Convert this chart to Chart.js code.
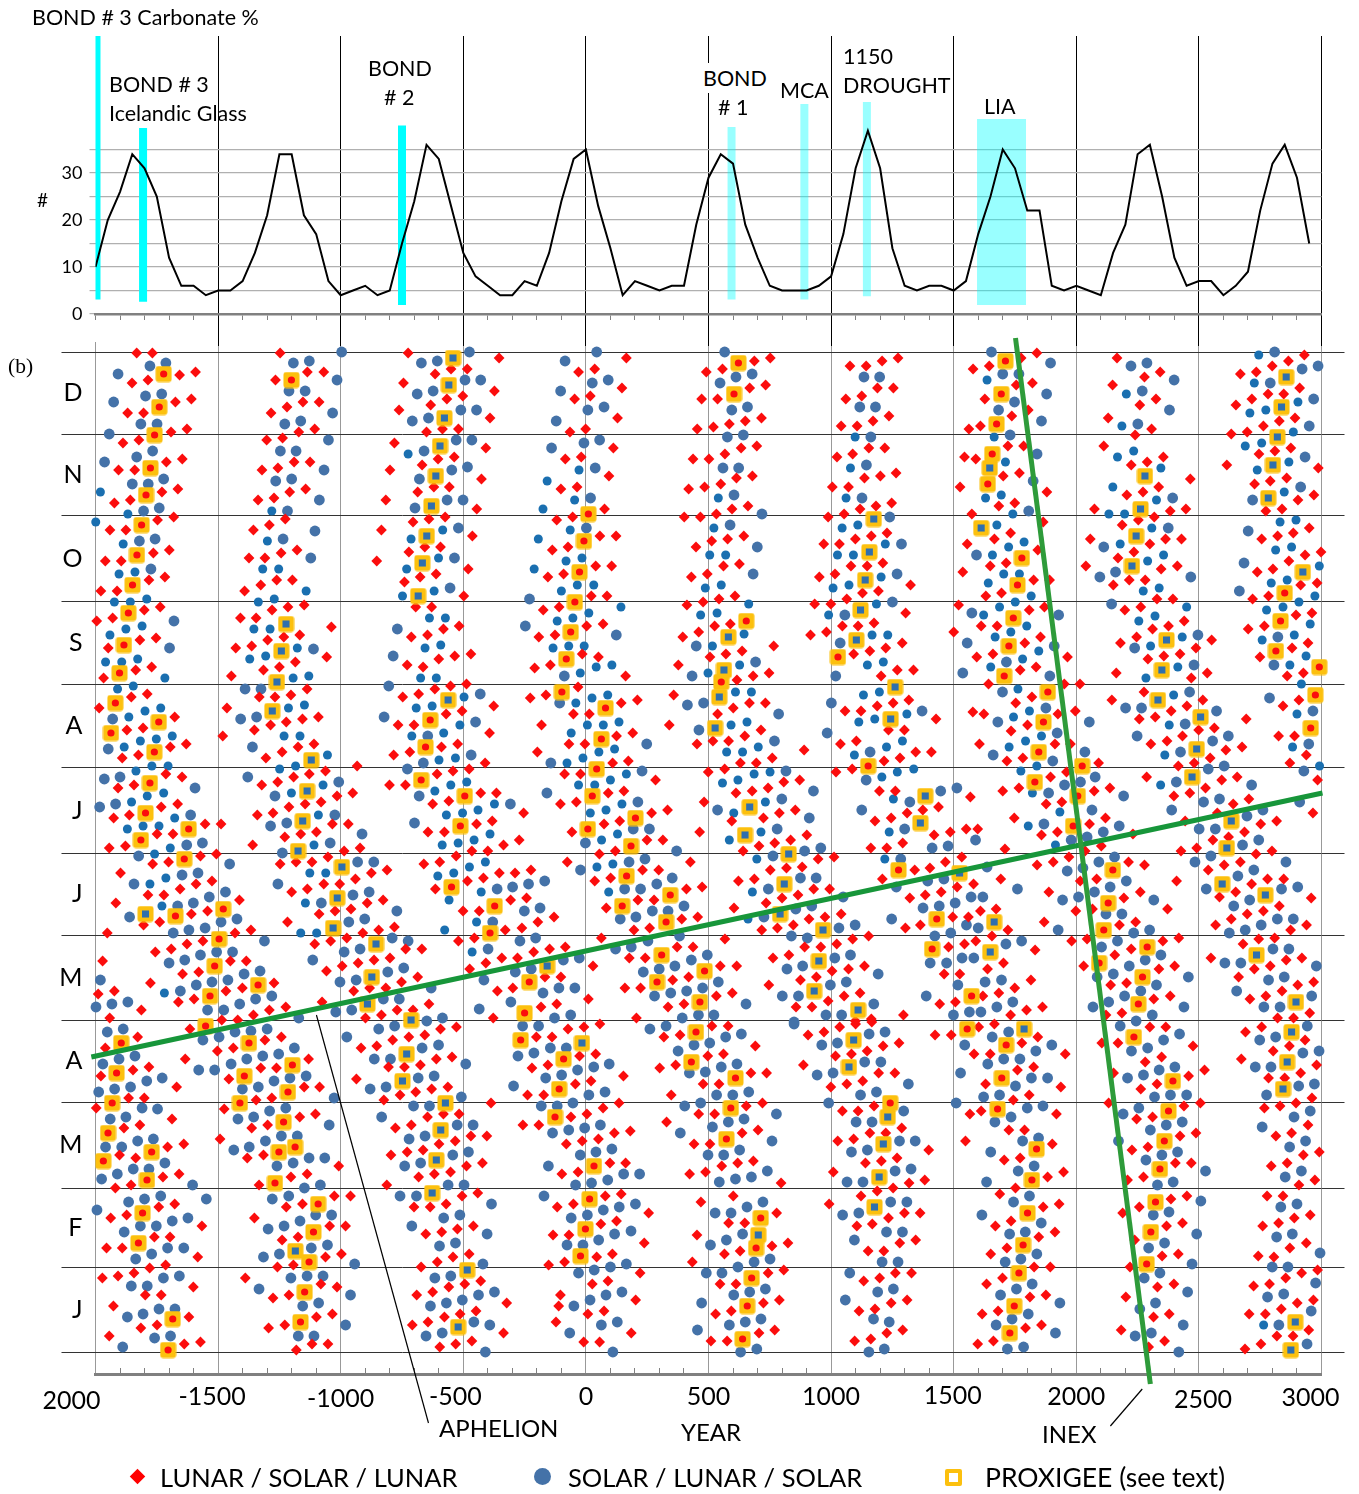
<!DOCTYPE html>
<html>
<head>
<meta charset="utf-8">
<title>Eclipse seasons and Bond events</title>
<script src="https://cdn.jsdelivr.net/npm/chart.js@4"></script>
<style>
html,body{margin:0;padding:0;background:#fff}
#page{position:relative;width:1359px;height:1494px;overflow:hidden;font-family:Lato,sans-serif;color:#000}
canvas{position:absolute;left:0}
.t{position:absolute;white-space:nowrap;line-height:30px;font-size:21.5px;z-index:5}
.k{position:absolute;z-index:5}
</style>
</head>
<body>
<div id="page">
<canvas id="bottomChart" width="1359" height="1164" style="top:330px"></canvas>
<canvas id="topChart" width="1359" height="346" style="top:0"></canvas>
<span class="t" style="left:32px;top:2px">BOND # 3 Carbonate %</span>
<span class="t" style="left:109px;top:69px">BOND # 3</span>
<span class="t" style="left:109px;top:98px">Icelandic Glass</span>
<span class="t" style="left:368px;top:53px">BOND</span>
<span class="t" style="left:384px;top:82px"># 2</span>
<span class="t" style="left:703px;top:63px;background:#fff">BOND</span>
<span class="t" style="left:718px;top:92px"># 1</span>
<span class="t" style="left:780px;top:75px">MCA</span>
<span class="t" style="left:843px;top:41px">1150</span>
<span class="t" style="left:843px;top:70px">DROUGHT</span>
<span class="t" style="left:984px;top:91px">LIA</span>
<span class="t" style="left:37px;top:185px;font-size:19px">#</span>
<span class="t" style="left:8px;top:351px;font-family:'Liberation Serif',serif">(b)</span>
<span class="t" style="left:439px;top:1413px;font-size:24px">APHELION</span>
<span class="t" style="left:681px;top:1417px;font-size:24px">YEAR</span>
<span class="t" style="left:1042px;top:1419px;font-size:24px">INEX</span>
<span class="k" style="left:132px;top:1471px;width:11px;height:11px;background:#f00;transform:rotate(45deg)"></span>
<span class="t" style="left:160px;top:1462px;font-size:25.5px">LUNAR / SOLAR / LUNAR</span>
<span class="k" style="left:534px;top:1468px;width:17px;height:17px;border-radius:50%;background:#4472a8"></span>
<span class="t" style="left:568px;top:1462px;font-size:25.5px">SOLAR / LUNAR / SOLAR</span>
<span class="k" style="left:945px;top:1469px;width:9px;height:9px;border:4px solid #fcc00e;border-radius:2px"></span>
<span class="t" style="left:985px;top:1462px;font-size:26.5px">PROXIGEE (see text)</span>
</div>
<script>
// ===== 数据 =====
const bondYears = [-2000,-1950,-1900,-1850,-1800,-1750,-1700,-1650,-1600,-1550,-1500,-1450,-1400,-1350,-1300,-1250,-1200,-1150,-1100,-1050,-1000,-950,-900,-850,-800,-750,-700,-650,-600,-550,-500,-450,-400,-350,-300,-250,-200,-150,-100,-50,0,50,100,150,200,250,300,350,400,450,500,550,600,650,700,750,800,850,900,950,1000,1050,1100,1150,1200,1250,1300,1350,1400,1450,1500,1550,1600,1650,1700,1750,1800,1850,1900,1950,2000,2050,2100,2150,2200,2250,2300,2350,2400,2450,2500,2550,2600,2650,2700,2750,2800,2850,2900,2950];
const bondCounts = [10,20,26,34,31,25,12,6,6,4,5,5,7,13,21,34,34,21,17,7,4,5,6,4,5,15,24,36,33,23,13,8,6,4,4,7,6,13,24,33,35,23,14,4,7,6,5,6,6,19,29,34,32,19,12,6,5,5,5,6,8,17,31,39,31,14,6,5,6,6,5,7,17,25,35,31,22,22,6,5,6,5,4,13,19,34,36,25,12,6,7,7,4,6,9,22,32,36,29,15];
const bandYears = [-1996,-1806,-750,594,891,1146,1695];
const bandLow = [3.1,2.6,1.9,3.1,3.1,3.8,1.9];
const bandHigh = [59.2,39.6,40.1,39.8,44.7,45.1,41.5];
const monthEdges = [0,85,164,250,332,417,499,584,668,751,836,918,1000];
const monthCentres = [42,124,207,291,374,458,541,626,709,793,877,959];
const monthNames = ['J','F','M','A','M','J','J','A','S','O','N','D'];
const xTickValues = [-2000,-1500,-1000,-500,0,500,1000,1500,2000,2500,3000];
const xTickLabels = ['2000','-1500','-1000','-500','0','500','1000','1500','2000','2500','3000'];
const inexLine = [1752,1014,2302,-32];
const aphelionLine = [-2017,295,3004,559];
const aphelionLeader = [-1099,337,-642,-71];
const inexLeader = [2269,-37,2139,-74];

// 以下各数组: 年份, 一年内位置(千分比) 交替排列, 按图上区域分组
const lunarA = [-1832,999,-1768,999,-1592,980,-1657,977,-1786,972,-1851,969,-1609,953,-1674,950,-1804,939,-1869,939,-1627,923,-1692,920,-1823,912,-1888,909,-1646,893,-1711,890,-1840,882,-1906,882,-1664,863,-1729,860,-1858,852,-1923,849,-1681,835,-1747,832,-1876,822,-1941,822,-1699,802,-1764,799,-1895,791,-1960,791,-1717,775,-1782,772,-1912,761,-1978,761,-1736,745,-1801,742,-1930,734,-1995,731,-1753,714,-1819,712,-1948,704,-1771,685,-1836,682,-1967,674,
-1247,999,-1069,980,-1136,980,-1266,972,-1088,950,-1154,950,-1219,945,-1284,939,-1106,923,-1171,920,-1237,914,-1302,912,-1125,890,-1190,890,-1256,884,-1321,882,-1143,863,-1208,860,-1272,854,-1337,852,-1226,833,-1291,827,-1356,822,-1178,802,-1243,799,-1309,794,-1374,794,-1197,772,-1261,772,-1326,767,-1392,761,-1149,747,-1215,745,-1280,742,-1345,734,-1409,734,-1038,725,-1167,717,-1232,715,-1298,712,-1363,706,-1428,704,-1057,695,-1185,690,-1250,685,-1315,682,-1446,676,
-725,999,-354,994,-550,983,-484,983,-615,978,-744,969,-373,961,-502,956,-567,953,-633,947,-762,942,-391,934,-520,923,-585,923,-650,920,-781,909,-408,904,-537,895,-603,893,-668,887,-799,882,-426,873,-557,865,-620,865,-686,860,-816,852,-445,843,-574,835,-640,833,-705,830,-834,822,-463,816,-593,805,-657,805,-722,800,-853,791,-480,783,-611,778,-676,775,-740,770,-498,756,-629,745,-694,745,-517,726,-581,723,-646,717,-712,715,-535,696,-600,693,-664,685,-729,687,-469,698];
const lunarB = [165,994,36,983,-30,980,147,964,18,956,-46,953,129,934,-1,923,-65,920,112,904,-19,895,-84,893,94,876,-36,865,-102,863,76,843,-54,835,-119,832,123,816,57,816,-73,805,-137,802,105,786,40,786,-91,778,-155,775,86,756,22,756,-109,745,-174,742,70,728,3,726,-126,717,-192,715,51,695,-15,698,-145,687,-209,684,162,676,
752,994,687,991,557,983,491,980,733,967,668,964,537,953,472,953,716,934,650,931,585,928,520,925,454,923,697,906,633,904,567,898,502,893,437,893,679,876,614,874,550,868,484,865,419,863,661,846,596,843,532,838,467,835,401,835,644,816,578,813,513,811,449,805,626,788,561,786,495,778,430,775,608,756,543,753,478,750,412,747,589,728,525,726,460,720,395,715,766,706,637,701,571,698,506,695,377,687,747,679,682,676,616,672,
1273,994,1208,991,1143,986,1077,986,1254,964,1189,964,1125,956,1060,953,1236,936,1171,931,1106,926,1041,926,1219,904,1154,904,1088,898,1024,895,1265,879,1201,876,1136,874,1071,865,1005,865,1247,849,1183,846,1118,843,1053,838,988,835,1228,819,1164,816,1099,813,1034,808,970,808,1211,789,1147,786,1081,786,1016,778,952,775,1324,767,1193,761,1128,759,1064,753,999,748,933,748,1304,739,1175,729,1110,726,1046,726,981,720,916,717,1290,709,1223,704,1158,701,1092,698,1336,682,1270,682,1204,676];
const lunarC = [1839,999,1775,994,1645,986,1579,983,1821,969,1755,967,1627,953,1804,942,1737,936,1609,926,1562,923,1785,906,1721,906,1590,893,1544,895,1768,879,1702,876,1526,865,1880,860,1749,849,1684,846,1574,838,1865,830,1732,819,1666,813,1555,808,1843,802,1714,789,1649,786,1537,780,1891,772,1826,772,1695,759,1631,756,1520,747,1870,745,1808,742,1677,726,1612,726,1500,720,1854,715,1790,709,1660,698,1594,695,1964,695,1836,685,1771,682,
2166,994,2342,980,2278,975,2148,967,2325,953,2259,947,2130,934,2307,923,2240,917,2112,906,2355,895,2289,890,2224,887,2465,873,2336,865,2272,860,2206,857,2074,843,2447,843,2383,841,2318,835,2253,832,2187,827,2429,813,2364,813,2300,808,2057,813,2235,800,2170,794,2412,786,2346,783,2039,786,2281,772,2216,772,2151,767,2394,753,2329,753,2263,745,2198,742,2440,731,2376,726,2311,723,2552,712,2246,715,2180,709,2488,704,2423,698,2357,696,2292,693,2534,679,2163,679,2469,674,
2930,997,2865,991,2799,986,2734,980,2669,978,2911,964,2846,958,2782,958,2716,953,2651,947,2892,934,2828,931,2763,926,2697,920,2632,918,2875,904,2810,901,2745,898,2614,887,2987,884,2858,874,2791,871,2727,868,2969,857,2904,852,2839,843,2773,841,2950,824,2885,819,2821,816,2756,813,2998,800,2933,797,2867,791,2738,780,2802,783,2982,769,2915,767,2784,756,2719,753,2961,739,2896,737,2767,726,2701,723,2945,709,2880,704,2749,695,2926,679,2860,676];
const lunarD = [-1789,658,-1854,655,-1985,644,-1677,635,-1806,624,-1872,622,-1630,608,-1695,605,-1825,597,-1891,594,-1713,578,-1647,575,-1843,567,-1908,564,-1665,548,-1732,545,-1862,537,-1926,534,-1488,528,-1553,528,-1684,518,-1749,518,-1878,506,-1944,504,-1507,498,-1572,496,-1702,490,-1767,488,-1898,479,-1525,471,-1590,468,-1721,457,-1786,457,-1655,463,-1917,449,-1413,452,-1543,441,-1609,438,-1738,430,-1804,427,-1952,419,-1366,422,-1431,419,-1562,411,-1627,408,-1691,403,-1756,400,-1385,391,-1450,391,-1971,391,-1579,380,-1645,378,-1776,369,-1272,369,-1401,364,-1468,361,-1923,361,-1989,358,-1598,353,-1662,350,-1813,342,-1224,345,-1291,342,-1356,337,-1420,332,-1485,332,-1942,334,
-1137,663,-1203,657,-1268,655,-1332,655,-1464,644,-1091,635,-1156,633,-1222,630,-1286,627,-1352,622,-1481,616,-1109,608,-1174,605,-1239,600,-1305,594,-933,586,-1062,581,-1128,578,-1192,575,-1257,570,-1322,567,-951,559,-1015,556,-1080,550,-1145,548,-1211,545,-1276,539,-1340,537,-969,528,-1034,528,-1099,520,-1163,518,-1228,515,-1359,507,-921,504,-986,501,-1052,495,-1117,490,-1182,490,-1247,488,-811,482,-875,479,-940,473,-1004,468,-1069,468,-1136,463,-1200,460,-827,452,-892,449,-958,443,-1023,441,-1088,438,-1217,430,-781,425,-845,422,-910,419,-975,414,-1041,411,-1106,408,-669,403,-735,403,-799,394,-864,392,-929,389,-994,386,-1058,381,-686,375,-752,370,-816,364,-882,364,-947,361,-640,348,-705,342,-770,342,-1076,350,-834,337,-899,334,
-552,666,-487,668,-616,663,-682,658,-747,655,-376,646,-505,641,-570,638,-701,627,-766,627,-393,619,-523,608,-589,605,-718,600,-784,597,-411,589,-476,583,-542,581,-607,578,-736,567,-801,567,-365,559,-429,559,-559,551,-625,548,-382,531,-446,528,-577,520,-644,520,-336,507,-400,501,-465,501,-529,496,-596,490,-661,488,-353,479,-418,474,-483,471,-614,463,-435,441,-501,441,-329,422,-455,414,-520,411,-343,394,-408,389,-474,383,-361,361,-378,334];
const lunarE = [-227,654,-163,657,-32,665,144,649,210,652,-51,638,14,638,-181,627,125,616,191,619,-69,608,-4,608,-198,600,109,589,173,591,-87,578,-22,578,284,572,91,559,155,561,-39,550,-104,548,333,542,268,539,-254,539,138,531,74,528,-57,520,314,512,249,512,-272,512,120,501,55,498,-76,490,426,490,297,482,231,482,-224,482,-289,479,101,474,36,471,474,465,410,463,278,452,212,452,-242,454,-307,452,83,444,456,435,391,433,-130,435,-196,430,-261,424,260,424,196,422,63,414,437,405,372,405,-84,405,-148,403,-213,400,-279,394,242,394,177,394,29,386,548,386,615,386,-102,375,-167,375,419,375,354,372,-298,364,223,364,159,364,597,359,532,356,10,353,-119,348,-183,345,400,348,335,345,206,334,
358,657,667,649,732,649,537,638,601,644,340,627,714,622,648,616,582,611,518,611,453,608,890,602,760,594,695,589,630,589,566,583,499,580,872,572,807,570,743,564,678,561,612,559,482,550,854,542,789,539,724,534,595,531,901,517,835,512,770,509,706,506,464,520,641,501,1012,495,947,493,882,485,818,484,752,482,687,473,622,471,994,463,929,463,865,457,800,454,735,449,604,444,1041,438,975,435,910,433,846,427,781,424,717,422,567,413,1088,413,1023,408,958,405,892,405,828,397,763,394,1136,386,1071,383,1004,381,940,375,875,372,746,367,1118,359,1053,356,988,351,922,345,857,345,1295,337,1164,333,1099,331,
1153,416,1122,641,1188,646,1253,649,1057,641,1317,652,1038,608,1103,611,1234,622,1299,622,1345,600,1216,591,1281,594,1086,583,1020,580,1197,561,1262,561,1310,539,1245,534,1179,531,1292,509,1227,504,1162,504,1341,482,1209,473,1321,454,1303,424];
const lunarF = [1428,633,1578,640,1623,638,1409,600,1605,608,1568,555,1700,561,1766,564,1374,542,1438,545,1747,534,1551,523,1598,523,1486,520,1420,517,1858,517,1709,503,1533,495,1466,490,1403,484,1692,473,1581,468,1514,465,1449,460,1384,457,1673,443,1609,441,1496,435,1560,435,1364,427,1721,422,1656,416,1590,411,1544,408,1479,405,1832,402,1703,389,1638,383,1525,378,1461,378,1815,372,1749,364,1684,359,1619,356,1507,350,1443,348,1862,345,1797,342,1732,337,
1642,668,1951,668,2015,668,1753,649,1819,655,1925,638,1996,641,1734,621,1801,627,1913,608,1976,608,1717,591,1782,594,2091,589,1960,580,1895,575,2073,561,2137,564,1941,550,1877,548,2119,534,2054,528,1923,520,2231,518,2036,501,2102,506,1970,495,1906,490,1840,487,2278,487,2213,490,2083,473,2016,471,1888,460,2261,460,2194,454,2066,443,1998,441,2372,443,2242,430,2176,427,1869,430,2418,414,2353,411,2044,413,1981,411,2224,403,2157,397,2401,386,2337,383,2030,386,2205,369,2140,367,2383,356,2316,353,2186,339,2121,337,
2276,660,2145,652,2516,652,2451,646,2387,641,2322,635,2257,633,2693,633,2563,624,2499,622,2433,616,2370,611,2304,608,2676,605,2610,602,2546,594,2481,589,2416,586,2287,575,2656,575,2593,572,2527,564,2463,559,2398,556,2704,553,2640,548,2575,539,2817,531,2752,528,2444,531,2686,520,2621,515,2557,512,2491,504,2427,501,2798,501,2733,498,2669,490,2603,487,2538,482,2409,471,2846,473,2780,473,2715,468,2650,460,2584,455,2958,454,2828,446,2763,441,2697,438,2632,433,2568,427,2939,427,2874,422,2809,414,2744,413,2680,408,2920,394,2856,392,2549,394,2791,386,2726,383,2662,375,2968,370,2903,367,2839,361,2773,356,2708,353,2952,339,2886,334,2821,334,
2843,646,2908,652,2825,616,2890,616,2938,597,2871,589,2984,572,2965,539];
const lunarG = [-1828,315,-1960,304,-1634,293,-1782,285,-1847,282,-1978,276,-1669,265,-1801,254,-1865,254,-1997,244,-1688,233,-1819,227,-1884,224,-1640,208,-1706,205,-1902,197,-1836,194,-1659,178,-1725,175,-1855,167,-1919,164,-1677,148,-1742,145,-1873,137,-1938,134,-1566,126,-1696,115,-1760,115,-1891,104,-1955,104,-1583,95,-1714,87,-1779,84,-1843,79,-1908,76,-1972,74,-1601,65,-1732,57,-1797,57,-1927,46,-1619,35,-1749,27,-1815,24,-1944,16,-1572,10,-1638,8,-1615,323,
-1242,315,-1309,312,-1438,304,-1503,301,-1131,293,-1262,284,-1326,284,-1456,273,-1086,265,-1149,265,-1281,254,-1345,252,-1475,243,-1103,238,-1167,235,-1298,227,-1363,224,-1492,213,-1315,197,-1381,194,-1008,186,-1137,178,-1203,175,-1333,167,-960,156,-1026,156,-1156,148,-1222,145,-1352,134,-980,126,-1045,126,-1174,115,-1239,112,-997,98,-1062,95,-1193,87,-1258,85,-1389,74,-1015,65,-1081,68,-1211,57,-1276,54,-1034,38,-1099,35,-1228,27,-1294,24,-1052,8,-1117,8,-1181,2,
-528,325,-593,323,-657,317,-722,315,-788,312,-853,306,-917,304,-546,295,-610,293,-675,287,-740,285,-805,285,-936,273,-563,265,-629,263,-694,260,-758,257,-824,252,-387,249,-517,238,-581,238,-646,235,-712,227,-777,224,-404,216,-469,216,-533,211,-599,208,-664,202,-729,200,-795,197,-422,189,-487,186,-552,180,-618,178,-682,175,-812,167,-441,159,-505,156,-570,148,-635,145,-701,145,-459,126,-524,123,-588,120,-653,118,-476,98,-542,95,-606,90,-672,85,-429,71,-494,68,-559,65,-625,60,-690,57,-323,49,-448,41,-513,38,-577,35,-644,30,-708,27,-336,19,-465,11,-531,8,-596,5];
const lunarH = [-73,323,-8,325,57,328,-202,315,-138,315,40,298,-26,296,-155,287,-220,284,153,276,21,271,-43,268,-172,257,-238,257,135,249,70,244,4,238,-61,235,-192,227,-257,227,181,221,116,219,51,213,-15,211,-80,208,162,189,98,189,-32,180,-98,178,144,158,79,156,-51,148,-117,145,256,139,125,131,61,128,-69,117,-134,117,238,109,108,98,44,95,-87,90,-152,87,221,79,90,71,26,68,-104,57,203,52,-111,46,74,41,8,38,-122,30,185,19,56,10,-9,10,
514,326,580,326,384,317,318,315,691,306,561,298,497,296,366,287,301,284,737,279,673,279,543,268,478,268,348,257,720,249,654,246,525,238,460,238,329,230,702,222,637,219,506,208,441,208,683,191,619,189,554,186,488,180,423,178,796,169,601,156,469,150,778,139,648,129,582,129,453,117,824,109,759,106,629,101,565,98,434,90,807,82,743,79,612,68,547,68,789,52,724,49,593,41,529,38,770,22,706,19,576,11,510,11,
1035,325,1100,328,1166,330,971,320,906,317,1277,309,1212,306,1147,301,1083,298,1018,296,887,287,1260,279,1194,279,1129,271,1064,268,999,265,1175,246,1110,241,1046,241,1288,224,1158,219,1092,213,1223,219,1027,211,1269,194,1205,191,1140,189,1009,180,1318,169,1253,164,1188,161,1122,156,992,148,1299,139,1234,134,1168,128,1105,126,1280,109,1345,112,1215,101,1151,101,1328,79,1262,79,1198,74,1133,71,1310,52,1245,49,1179,43,1114,41,1292,22,1227,19,1162,13,1096,11];
const lunarI = [1424,317,1490,317,1602,325,1666,328,1843,315,1778,309,1955,298,1649,298,1583,298,1826,285,1760,282,1630,268,1937,265,1808,257,1743,252,1919,238,1612,241,1566,238,1789,222,1725,222,1548,211,1398,202,1902,208,1771,194,1706,192,1948,180,1883,175,1382,172,1752,164,1688,158,1930,148,1865,145,1363,139,1734,131,1670,126,1913,120,1847,115,1717,104,1651,98,1894,85,1828,85,1699,74,1634,68,1876,57,1811,55,1681,41,1616,38,1858,27,1793,24,1662,11,1598,8,
2300,325,2365,325,2170,309,2104,309,2476,306,2348,295,2281,290,2523,282,2458,276,2329,268,2263,263,2152,279,2506,249,2132,249,2439,246,2311,235,2246,233,2488,219,2423,216,2292,205,2227,202,2469,189,2404,189,2274,175,2209,172,2451,156,2386,153,2257,145,2189,139,2433,129,2368,126,2238,112,2416,98,2350,96,2219,85,2398,68,2331,65,2202,55,2379,38,2315,35,2183,22,2360,11,2295,5,
2756,325,2690,320,2933,312,2869,306,2803,301,2673,293,2980,287,2915,279,2850,274,2784,274,2961,254,2896,249,2831,246,2767,244,2945,227,2878,219,2814,216,2991,200,2926,197,2860,189,2795,186,2973,172,2908,167,2843,156,2778,156,2954,137,2889,134,2825,129,2760,126,2938,109,2871,104,2806,95,2742,96,2984,82,2919,79,2854,74,2788,68,2723,66,2967,52,2901,49,2836,43,2771,38,2705,38,2948,22,2884,16,2818,16,2753,8,2688,3];

const solarLargeA = [-1713,989,-1778,986,-1908,978,-1730,958,-1796,956,-1926,950,-1749,928,-1815,928,-1944,918,-1767,901,-1832,895,-1963,890,-1722,873,-1785,868,-1850,868,-1740,844,-1804,841,-1757,813,-1821,811,-1774,783,-1680,731,-1698,704,
-996,1000,-1128,991,-1193,989,-1015,972,-1145,961,-1211,961,-1033,939,-1163,931,-1228,928,-1050,912,-1182,901,-1246,901,-1068,882,-1200,873,-1265,871,-1087,852,-1217,841,-1105,821,-1235,813,-1122,794,-1111,703,
-475,1000,-606,991,-671,989,-493,972,-429,972,-623,961,-688,958,-510,942,-446,942,-642,934,-708,931,-529,912,-465,912,-660,901,-547,882,-483,885,-679,873,-566,852,-501,852,-697,844,-520,824,-536,794,-554,764,-769,723,-786,696];
const solarLargeB = [44,1000,-85,991,91,972,26,969,-103,961,74,945,8,942,-121,931,56,912,-8,909,-140,904,38,884,19,854,2,824,-230,753,-247,726,124,717,-88,676,
566,1000,678,978,612,975,547,969,659,945,595,942,642,917,577,915,623,884,559,884,604,857,718,838,588,827,699,805,682,778,450,706,692,690,433,676,
1134,975,1198,975,1117,945,1181,945,1162,915,1144,887,1126,854,1239,835,1287,808,1269,778,1250,750,1056,737,1037,709,1019,676];
const solarLargeC = [1654,1000,1895,989,1700,978,1766,978,1879,958,1748,950,1683,942,1858,931,1730,917,1840,898,1824,871,1806,841,1593,797,1574,739,1928,737,1555,709,1910,706,1715,690,1537,679,1892,676,
2223,986,2288,989,2399,972,2269,961,2380,942,2251,928,2393,854,2375,824,2112,805,2467,775,2160,780,2096,775,2144,748,2496,717,2238,704,2480,687,
2809,1000,2986,986,2921,983,2791,969,2968,953,2950,926,2933,895,2915,865,2719,852,2701,821,2684,789,2665,761,2822,715,2806,687];
const solarLargeD = [-1930,633,-1948,603,-1964,573,-1900,575,-1594,564,-1983,545,-1918,548,-1612,537,-1564,509,-1628,507,-1824,496,-1453,488,-1582,479,-1647,477,-1843,468,-1470,460,-1536,455,-1601,449,-1665,446,-1861,435,-1423,433,-1488,430,-1553,424,-1619,422,-1683,419,-1311,411,-1441,400,-1506,400,-1572,397,-1636,392,-1700,389,-1329,381,-1394,378,-1460,372,-1525,370,-1589,367,-1980,372,-1347,353,-1281,356,-1654,361,-1412,348,-1868,350,-1933,348,-1998,345,-1477,342,-1543,342,
-1390,663,-1325,663,-1408,633,-1343,635,-1360,605,-1379,575,-1008,570,-1268,556,-1024,537,-1286,526,-1220,529,-913,518,-1043,509,-1238,499,-931,490,-865,490,-1256,468,-884,460,-950,457,-1079,449,-771,441,-902,433,-967,430,-790,414,-725,411,-921,403,-986,400,-1114,392,-743,384,-808,380,-1003,370,-937,372,-631,364,-761,353,-826,353,-585,334,-649,331,-955,342,-1020,340,-1171,334,
-804,666,-431,658,-823,635,-450,630,-645,616,-663,589,-468,597,-728,583,-680,556,-699,529,-362,463,-380,430,-399,403,-416,372,-435,343];
const solarLargeE = [-107,649,248,608,-143,589,229,581,-159,559,-308,548,212,550,193,523,259,523,-2,509,370,501,176,490,241,493,-22,482,352,474,289,468,-234,468,-168,471,-299,465,158,463,223,463,400,446,335,441,271,441,-187,444,-251,441,204,435,140,433,382,416,-205,414,-269,411,253,411,185,405,121,403,495,397,-92,392,-27,394,430,392,363,386,299,383,234,380,-288,380,-223,383,540,370,476,364,411,361,346,359,280,356,-45,364,-110,364,-175,359,-306,350,653,348,522,337,459,337,393,334,-62,337,-128,334,
414,647,480,649,786,638,1001,649,461,622,769,611,984,619,816,581,928,561,799,553,537,542,911,534,780,523,958,504,892,501,763,496,939,474,875,474,744,463,1049,455,921,446,856,443,1032,424,1098,427,726,435,838,416,903,414,1079,397,1015,394,884,386,820,383,1192,378,1062,370,997,367,867,356,801,356,1174,348,979,337,1043,337,849,330,
1159,600,1143,572,1321,550,1125,542,1300,523,1284,493,1266,465,1247,433];
const solarLargeF = [1371,641,1680,630,1661,597,1513,564,1447,561,1589,512,1477,506,1412,504,1636,485,1460,473,1394,471,1760,463,1619,455,1571,455,1506,449,1441,446,1375,444,1600,424,1552,427,1488,419,1423,416,1777,411,1713,408,1582,394,1534,394,1471,389,1404,389,1695,372,1628,370,1517,367,1388,356,1741,350,1676,345,1611,340,1564,340,1499,337,
1699,660,1876,644,1922,619,2053,630,1904,591,2035,600,2077,575,2017,570,1952,567,1887,559,2193,556,2064,542,1868,528,2175,526,2110,520,2044,515,1979,512,2156,495,2092,490,2027,484,1963,481,2204,471,2138,465,2074,460,2009,455,1944,452,2316,452,2186,438,2121,438,2299,422,2234,419,1926,422,2168,411,2103,405,2345,397,2281,392,2216,386,2151,378,2085,375,2457,375,2327,367,2263,361,2197,356,2132,350,2068,345,2439,345,2310,337,2244,331,
2462,660,2266,644,2201,644,2572,641,2444,628,2248,616,2620,616,2556,611,2425,600,2603,586,2538,583,2715,567,2408,570,2584,553,2519,550,2389,542,2911,550,2761,542,2696,536,2567,523,2501,523,2744,512,2678,507,2549,496,2484,490,2855,490,2724,482,2659,476,2530,463,2903,465,2837,463,2707,452,2642,446,2885,433,2820,433,2754,427,2689,422,2624,419,2867,403,2802,403,2979,386,2671,389,2606,389,2784,372,2848,375,2654,361,2960,356,2831,345,2765,345,
2788,654,2965,641,2948,608,2928,581];
const solarLargeG = [-1952,320,-1887,323,-1839,296,-1904,293,-1970,288,-1728,274,-1791,271,-1857,265,-1922,263,-1987,260,-1747,243,-1810,244,-1876,235,-1940,233,-1764,213,-1828,211,-1893,205,-1959,205,-1717,189,-1782,183,-1846,183,-1911,178,-1975,173,-1604,167,-1734,156,-1800,153,-1865,150,-1548,153,-1994,142,-1623,134,-1687,131,-1752,126,-1817,126,-1883,120,-1640,104,-1706,104,-1771,98,-1836,93,-1658,76,-1723,74,-1789,66,-1854,66,-1676,43,-1741,43,-1806,38,-1870,35,-1694,16,-1759,14,-1889,5,
-1562,312,-1496,315,-1431,320,-1366,321,-1300,323,-1189,304,-1253,298,-1318,296,-1383,293,-1447,288,-1514,282,-1579,282,-1141,276,-1207,274,-1272,271,-1336,265,-1401,263,-1027,254,-1224,244,-1290,241,-1355,235,-1419,233,-1047,227,-1177,216,-1242,216,-1307,211,-1373,205,-1436,202,-1065,194,-1129,194,-1194,189,-1260,186,-1083,167,-1148,164,-1212,156,-1279,153,-1037,137,-1102,137,-1166,131,-1231,126,-1296,123,-1054,107,-1120,104,-1250,98,-1315,95,-943,88,-1072,76,-1137,76,-1203,74,-1333,63,-960,57,-1090,49,-1155,46,-980,27,-1109,16,-1173,16,
-975,315,-845,323,-780,326,-668,304,-601,307,-863,293,-797,293,-490,288,-684,274,-619,276,-880,263,-815,265,-508,255,-703,246,-638,246,-833,235,-525,227,-460,227,-721,213,-656,216,-479,200,-543,197,-739,186,-674,189,-497,167,-562,167,-758,156,-691,156,-385,148,-514,137,-580,134,-710,126,-403,118,-532,109,-597,106,-420,88,-551,76,-616,74,-373,60,-438,57,-504,52,-569,49,-634,46,-392,27,-457,30,-586,19,-652,16,-410,0];
const solarLargeH = [-258,326,-193,326,-145,304,-80,304,-212,299,-277,296,95,288,32,285,-34,282,-99,277,-164,274,-295,266,78,260,12,257,-53,249,-117,246,-182,246,59,227,-5,224,-70,222,-136,219,106,203,41,200,-23,197,-153,186,219,178,154,178,89,172,23,169,-42,167,-171,156,202,148,136,145,71,142,-60,134,6,137,184,121,117,118,52,112,-12,107,-77,107,165,88,100,85,34,82,-30,79,147,60,82,57,17,52,-49,46,128,30,63,27,-66,19,110,0,
261,323,327,326,634,318,570,315,505,309,441,307,376,301,616,288,552,285,487,280,422,279,664,260,599,257,533,257,468,249,403,246,777,238,645,233,581,230,516,225,385,219,759,211,627,202,562,197,498,197,740,181,675,175,610,173,544,170,722,150,657,145,592,139,527,139,573,112,508,107,639,118,751,93,686,90,620,85,555,79,491,79,732,63,668,60,603,57,472,49,714,33,650,30,585,27,455,22,697,3,631,0,
849,328,1220,320,1155,318,962,307,1026,309,1203,290,1137,290,943,277,1008,279,1315,268,1185,260,1120,257,990,249,1296,241,1167,230,1102,230,1343,211,1279,211,1148,202,1083,200,1326,183,1261,181,1130,170,1065,170,1309,150,1243,150,1113,139,1047,137,1291,120,1226,120,1095,112,1273,90,1208,90,1076,79,1254,63,1190,60,1058,52,1237,30,1173,33,1217,3,1154,0];
const solarLargeI = [1657,315,1724,320,1545,307,1900,307,1835,301,1770,293,1704,293,1639,288,1528,279,1883,274,1817,274,1752,266,1687,257,1622,255,1510,249,1864,246,1800,244,1734,235,1668,230,1846,214,1781,211,1651,200,1828,186,1763,181,1634,170,1809,156,1744,150,1615,137,1857,129,1792,120,1728,118,1839,98,1774,93,1710,90,1820,68,1756,63,1691,57,1933,49,1804,38,1738,33,1673,27,1915,19,1785,5,1719,3,
2179,326,2421,318,2356,312,2225,301,2291,304,2402,285,2338,282,2209,274,2274,277,2450,257,2384,257,2319,255,2255,244,2191,238,2432,230,2367,227,2302,222,2172,211,2413,200,2349,197,2284,192,2527,181,2395,170,2331,167,2508,151,2378,140,2314,137,2491,118,2360,109,2295,104,2472,88,2341,79,2277,74,2454,60,2323,49,2259,43,2436,27,2306,19,2240,16,2418,0,
2942,326,2813,315,2748,312,2990,301,2924,299,2794,285,2730,285,2971,268,2907,266,2776,257,2954,241,2888,235,2758,225,2935,211,2870,205,2918,181,2852,175,2900,148,2834,145,2881,118,2817,115,2994,99,2863,85,2799,85,2976,69,2846,58,2780,55,2958,41,2826,27,2941,8];

const solarSmallA = [-1980,860,-1868,838,-1999,830,-1887,808,-1904,778,-1839,780,-1923,750,-1858,750,-1791,753,-1810,726,-1876,723,-1941,717,-1828,693,-1893,690,-1959,690,-1717,674,-1281,841,-1299,811,-1318,783,-1253,783,-1141,761,-1271,753,-1336,750,-1288,723,-1354,723,-1177,704,-1306,696,-1371,693,-1130,676,-1194,674,-725,898,-584,822,-713,813,-601,794,-731,783,-619,761,-748,756,-638,734,-573,734,-656,704,-592,707,-674,674,-610,674];
const solarSmallB = [-158,871,-28,882,-46,852,-175,843,-64,822,-194,813,-16,794,-81,791,-211,783,-35,767,-100,761,32,767,143,745,12,739,-53,734,-117,731,-7,706,-70,706,-134,704,106,687,42,685,-23,679,540,854,522,824,570,797,505,797,552,767,487,764,664,748,535,739,468,737,645,718,516,706,627,687,498,679,1098,915,1079,884,1061,854,1045,824,1109,827,1221,808,1026,797,1091,797,1204,775,1008,764,1073,767,1185,748,990,737,1167,717,1231,717,1148,687,1213,690];
const solarSmallC = [1636,972,1665,915,1711,890,1630,854,1694,857,1741,838,1676,827,1787,810,1724,805,1658,797,1768,778,1704,778,1641,769,1816,756,1751,750,1687,745,1622,737,1798,726,1733,720,1669,715,1847,701,1781,693,1651,685,2204,958,2186,926,2168,895,2234,901,2345,884,2149,865,2327,852,2133,838,2197,838,2308,824,2179,808,2291,791,2356,797,2338,764,2273,761,2450,745,2321,736,2255,731,2432,715,2303,706,2414,685,2284,674,2744,997,2726,969,2904,950,2708,939,2773,942,2885,920,2689,906,2756,909,2867,890,2738,882,2848,860,2896,832,2831,830,2878,805,2813,802,2991,786,2860,772,2795,769,2973,756,2908,750,2843,745,2776,742,2954,728,2889,717,2758,712,2937,696,2871,687];
const solarSmallD = [-1846,666,-1910,663,-1734,644,-1798,641,-1864,635,-1687,616,-1752,613,-1817,611,-1883,605,-1704,586,-1770,586,-1835,581,-1722,559,-1789,556,-1853,550,-1677,534,-1741,526,-1806,526,-1870,523,-1695,504,-1759,498,-1713,474,-1778,468,-1729,446,-1719,359,-1213,644,-1148,647,-1231,616,-1166,616,-1054,597,-1249,583,-1184,586,-1072,567,-1201,559,-1091,537,-1109,507,-1126,479,-1061,479,-1144,449,-1163,419,-1098,419,-497,655,-627,646,-692,644,-514,627,-580,619,-710,616,-532,594,-599,592,-486,570,-551,567,-616,561,-503,539,-569,537,-373,548,-440,542,-391,518,-456,512,-521,509,-586,507,-410,490,-475,485,-539,479,-604,476,-427,460,-558,452,-446,430,-576,422,-464,400];
const solarSmallE = [25,654,89,657,-41,649,6,627,71,627,135,630,-60,619,53,600,117,603,-12,594,-77,589,165,578,100,572,36,567,-30,567,147,548,82,542,18,539,129,518,64,512,110,488,45,485,93,460,610,660,675,660,592,627,657,630,574,600,639,600,703,605,686,578,751,580,557,569,620,572,732,550,603,539,714,520,585,512,697,493,679,460,661,433,1132,657,1197,660,1178,633,1113,630,1309,638,1291,611,1226,605,1095,597,1270,580,1207,575,1254,553,1237,520,1219,493,1337,583];
const solarSmallF = [1762,663,1744,635,1726,605,1809,641,1858,616,1793,611,1839,586,1774,581,1821,559,1933,540,1804,526,1915,507,2397,657,2379,627,2361,597,2344,567,2900,638,2882,605,2992,586,2918,668,2764,27];

const proxigeeLunarTop = [-1722,978,-1740,945,-1759,917,-1776,884,-1794,857,-1812,827,-1831,797,-1849,767,-1866,739,-1884,707,-1902,679,-1201,972,10,838,-8,811,-26,780,-45,750,-62,720,-80,693,622,989,604,958,654,731,552,670,1028,695,1711,991,1694,958,1675,928,1657,898,1639,868,1778,794,1760,767,1743,734,1725,706,1706,676,2850,759,2833,731,2814,701,2991,685];
const proxigeeLunarMid = [-1919,649,-1742,630,-1937,619,-1760,600,-1778,569,-1796,539,-1620,523,-1815,512,-1638,493,-1674,436,-1479,443,-1496,413,-1514,386,-1337,367,-1533,356,-635,632,-654,605,-672,572,-494,556,-512,526,-548,465,-372,446,-391,419,-98,660,80,644,63,613,44,583,26,556,202,534,8,523,184,506,166,476,344,457,148,446,327,430,-231,370,-250,339,309,397,484,381,290,370,465,350,1151,586,1275,482,1431,433,1412,403,1573,356,1884,660,1866,630,1847,600,2024,586,1831,570,2006,556,1987,526,2149,482,2130,449,2112,422,2289,405,2270,375,2093,389,2253,348,2975,657,2956,624];
const proxigeeLunarLow = [-1895,309,-1914,279,-1932,249,-1949,219,-1771,200,-1968,191,-1790,172,-1808,139,-1825,109,-1685,33,-1704,2,-1551,326,-1374,309,-1197,287,-1393,276,-1215,260,-1411,249,-1233,230,-1252,200,-1186,205,-1268,169,-1092,148,-1111,120,-1129,90,-1147,60,-1164,30,-266,312,-91,293,-109,263,-126,235,33,186,15,153,-2,123,-22,96,449,320,430,290,610,274,591,244,573,213,713,134,694,104,676,74,658,46,639,13,1241,249,1555,323,1714,307,1696,274,1679,243,1838,203,1819,172,1801,139,1783,107,1766,79,1747,46,1729,19,2235,315,2394,271,2376,241,2359,211,2341,183,2323,150,2304,120,2287,88];
const proxigeeSolarTop = [-1223,728,-1242,701,-1260,670,-542,994,-559,967,-577,934,-595,906,-612,876,-630,846,-649,816,-667,789,-684,756,1174,833,1156,800,1139,772,1120,742,1103,712,581,715,563,682,2856,975,2837,945,2820,915,2802,887,2783,854,2924,780,1647,884,1612,824,2280,876,2262,843,2244,816,2227,786,2368,712,2349,682];
const proxigeeSolarMid = [-1796,438,-1279,641,-1120,592,-1137,561,-1155,531,-1174,501,-995,485,-1014,454,-1031,424,-856,408,-873,375,-891,348,-713,332,-562,652,-158,386,544,655,527,624,668,545,649,517,827,498,809,468,792,438,967,422,950,391,931,361,1110,342,1261,665,1243,633,1384,556,1364,529,1524,479,1665,430,1649,400,2333,652,2507,635,2491,603,2472,575,2632,531,2614,504,2595,468,2771,457,2735,397,2896,350];
const proxigeeSolarLow = [-1185,101,-731,298,-748,271,-573,249,-592,222,-610,192,-627,159,-484,82,-521,25,-16,309,703,117,1092,312,1073,285,1231,235,1213,208,1196,175,1177,145,1787,323,2878,320,2860,290,2843,263,2893,30,2875,2];

const lunar = [].concat(lunarA, lunarB, lunarC, lunarD, lunarE, lunarF, lunarG, lunarH, lunarI);
const solarLarge = [].concat(solarLargeA, solarLargeB, solarLargeC, solarLargeD, solarLargeE, solarLargeF, solarLargeG, solarLargeH, solarLargeI);
const solarSmall = [].concat(solarSmallA, solarSmallB, solarSmallC, solarSmallD, solarSmallE, solarSmallF);
const proxigeeLunar = [].concat(proxigeeLunarTop, proxigeeLunarMid, proxigeeLunarLow);
const proxigeeSolar = [].concat(proxigeeSolarTop, proxigeeSolarMid, proxigeeSolarLow);

const pairs = a => { const out = []; for (let i = 0; i < a.length; i += 2) out.push({x: a[i], y: a[i + 1]}); return out; };
const lineOf = (a, color, w) => ({type: 'line', data: pairs(a), borderColor: color, borderWidth: w, pointRadius: 0, clip: false, borderCapStyle: 'butt'});

const yearMin = -2000, yearMax = 3000;

// 黄色方框
const proxBox = document.createElement('canvas');
proxBox.width = proxBox.height = 17;
const pctx = proxBox.getContext('2d');
pctx.fillStyle = '#fcc00e';
pctx.beginPath();
pctx.roundRect(0.5, 0.5, 16, 16, 3);
pctx.fill();

// ===== 上图 =====
const bandSets = bandYears.map((yr, i) => ({
  type: 'line',
  data: [{x: yr, y: bandLow[i]}, {x: yr, y: bandHigh[i]}],
  borderColor: i < 3 ? '#00ffff' : 'rgba(0,255,255,0.4)',
  borderWidth: i === 6 ? 49 : 8,
  borderCapStyle: 'butt',
  pointRadius: 0,
  order: 2
}));

new Chart(document.getElementById('topChart'), {
  type: 'line',
  data: {
    datasets: [...bandSets, {
      data: bondYears.map((yr, i) => ({x: yr, y: bondCounts[i]})),
      borderColor: '#000',
      borderWidth: 2,
      pointRadius: 0,
      tension: 0,
      order: 1
    }]
  },
  options: {
    responsive: false,
    animation: false,
    parsing: false,
    layout: {autoPadding: false, padding: {left: 0, right: 37.5, top: 36, bottom: 32}},
    plugins: {legend: {display: false}, tooltip: {enabled: false}},
    scales: {
      x: {
        type: 'linear', min: yearMin, max: yearMax,
        afterBuildTicks: s => { s.ticks = []; for (let v = yearMin; v <= yearMax; v += 100) s.ticks.push({value: v}); },
        afterFit: s => { s.height = 0; },
        ticks: {display: false},
        border: {color: '#808080', width: 2.5},
        grid: {drawOnChartArea: false, tickLength: 6, tickColor: '#808080'}
      },
      xMajor: {
        type: 'linear', position: 'bottom', min: yearMin, max: yearMax,
        afterBuildTicks: s => { s.ticks = xTickValues.slice(1).map(v => ({value: v})); },
        afterFit: s => { s.height = 0; },
        ticks: {display: false},
        border: {display: false},
        grid: {color: '#000', lineWidth: 1, tickLength: 32, tickColor: '#000'}
      },
      y: {
        min: 0, max: 59.15,
        afterBuildTicks: s => { s.ticks = [0,5,10,15,20,25,30,35].map(v => ({value: v})); },
        afterFit: s => { s.width = 95.5; },
        border: {display: false},
        grid: {color: '#b0b0b0', lineWidth: 1.2, tickLength: 6},
        ticks: {
          padding: 7, color: '#000', autoSkip: false,
          font: {family: 'Lato', size: 18},
          callback: v => v % 10 === 0 ? String(v) : ''
        }
      }
    }
  }
});

// ===== 下图 =====
const xLabelPlugin = {
  id: 'xLabels',
  afterDraw(chart) {
    const ctx = chart.ctx, sx = chart.scales.x;
    const nudgeX = [-24,-6,0,-8,0,0,0,-1,0,4,-11];
    const nudgeY = [4,0,2,0,0,0,0,-1,0,3,1];
    ctx.save();
    ctx.font = '25px Lato';
    ctx.fillStyle = '#000';
    ctx.textAlign = 'center';
    ctx.textBaseline = 'middle';
    xTickValues.forEach((v, i) => ctx.fillText(xTickLabels[i], sx.getPixelForValue(v) + nudgeX[i], 1067 + nudgeY[i]));
    ctx.restore();
  }
};

const yCommon = {min: -22, max: 1010};
new Chart(document.getElementById('bottomChart'), {
  type: 'scatter',
  data: {
    datasets: [
      {data: pairs(lunar), pointStyle: 'rectRot', pointRadius: 5.4, backgroundColor: '#fb0d0d', borderWidth: 0, clip: false, order: 5},
      {data: pairs(solarLarge), pointStyle: 'circle', pointRadius: 5.4, backgroundColor: '#4472a8', borderWidth: 0, clip: false, order: 6},
      {data: pairs(solarSmall), pointStyle: 'circle', pointRadius: 4.5, backgroundColor: '#1a6fb0', borderWidth: 0, clip: false, order: 6},
      {data: pairs(proxigeeLunar), pointStyle: proxBox, backgroundColor: '#fcc00e', clip: false, order: 4},
      {data: pairs(proxigeeSolar), pointStyle: proxBox, backgroundColor: '#fcc00e', clip: false, order: 4},
      {data: pairs(proxigeeLunar), pointStyle: 'circle', pointRadius: 3.6, backgroundColor: '#fb0d0d', borderWidth: 0, clip: false, order: 3},
      {data: pairs(proxigeeSolar), pointStyle: 'rect', pointRadius: 5, backgroundColor: '#2f6fae', borderWidth: 0, clip: false, order: 3},
      Object.assign(lineOf(aphelionLeader, '#000', 1.2), {order: 2}),
      Object.assign(lineOf(inexLeader, '#000', 1.2), {order: 2}),
      Object.assign(lineOf(aphelionLine, '#17963a', 5), {order: 1}),
      Object.assign(lineOf(inexLine, '#2e9b3a', 5), {order: 0})
    ]
  },
  options: {
    responsive: false,
    animation: false,
    parsing: false,
    layout: {autoPadding: false, padding: {left: 0, right: 37.5, top: 12, bottom: 120}},
    plugins: {legend: {display: false}, tooltip: {enabled: false}},
    scales: {
      x: {
        type: 'linear', min: yearMin, max: yearMax,
        afterBuildTicks: s => { s.ticks = []; for (let v = yearMin; v <= yearMax; v += 100) s.ticks.push({value: v}); },
        afterFit: s => { s.height = 0; },
        ticks: {display: false},
        border: {color: '#808080', width: 3},
        grid: {drawOnChartArea: false, tickLength: -6, tickColor: '#808080'}
      },
      xMajor: {
        type: 'linear', position: 'bottom', min: yearMin, max: yearMax,
        afterBuildTicks: s => { s.ticks = xTickValues.map(v => ({value: v})); },
        afterFit: s => { s.height = 0; },
        ticks: {display: false},
        border: {display: false},
        grid: {color: '#999', lineWidth: 1, drawTicks: false}
      },
      y: {
        ...yCommon, weight: 0,
        afterBuildTicks: s => { s.ticks = monthEdges.map(v => ({value: v})); },
        afterFit: s => { s.width = 0; },
        ticks: {display: false},
        border: {display: false},
        grid: {color: '#333', lineWidth: 1, tickLength: 34, tickColor: '#333'}
      },
      yRight: {
        ...yCommon, position: 'right',
        afterBuildTicks: s => { s.ticks = monthEdges.map(v => ({value: v})); },
        afterFit: s => { s.width = 0; },
        ticks: {display: false},
        border: {display: false},
        grid: {drawOnChartArea: false, tickLength: 23, tickColor: '#333'}
      },
      yMonths: {
        ...yCommon, position: 'left', weight: 1,
        afterBuildTicks: s => { s.ticks = monthCentres.map(v => ({value: v})); },
        afterFit: s => { s.width = 95.5; s.paddingTop = 0; s.paddingBottom = 0; },
        border: {display: false},
        grid: {display: false},
        ticks: {
          padding: 5, color: '#000', autoSkip: false,
          font: {family: 'Lato', size: 25},
          callback: (v) => monthNames[monthCentres.indexOf(v)]
        }
      }
    }
  },
  plugins: [xLabelPlugin]
});
</script>
</body>
</html>
